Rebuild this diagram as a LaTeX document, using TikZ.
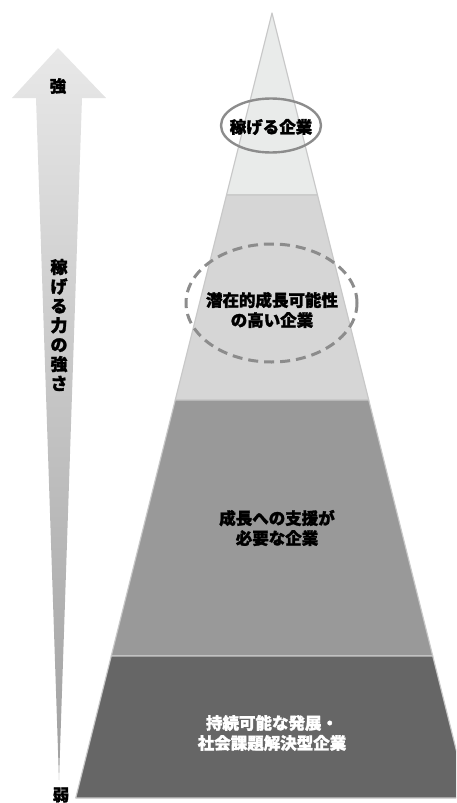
\documentclass[tikz,border=0pt]{standalone}
\usepackage{fontspec}
\newfontfamily\jp{Noto Sans CJK JP}[BoldFeatures={FakeBold=1.6}]
\usetikzlibrary{shapes.geometric}
\definecolor{band1}{HTML}{E9EBEA}
\definecolor{band2}{HTML}{D6D6D6}
\definecolor{band3}{HTML}{999999}
\definecolor{band4}{HTML}{666666}
\definecolor{edgegray}{HTML}{C8C8C8}
\definecolor{ringgray}{HTML}{8C8C8C}
\tikzset{
  band/.style={draw=edgegray,line width=1.2pt,line join=round},
  label/.style={font=\jp\bfseries\fontsize{16.5}{20}\selectfont,align=center,inner sep=0pt},
}

\begin{document}
\begin{tikzpicture}[x=1pt,y=-1pt]
  \clip (0,0) rectangle (456,803);
  \coordinate (0) at (272,13);
  \coordinate (1l) at (226.5,195);
  \coordinate (1r) at (317.5,195);
  \coordinate (2l) at (175.25,400);
  \coordinate (2r) at (368.75,400);
  \coordinate (3l) at (111.25,656);
  \coordinate (3r) at (432.75,656);
  \coordinate (4l) at (75.75,798);
  \coordinate (4r) at (468.25,798);
  \filldraw[band,fill=band1] (0) -- (1r) -- (1l) -- cycle;
  \filldraw[band,fill=band2] (1l) -- (1r) -- (2r) -- (2l) -- cycle;
  \filldraw[band,fill=band3] (2l) -- (2r) -- (3r) -- (3l) -- cycle;
  \filldraw[band,fill=band4] (3l) -- (3r) -- (4r) -- (4l) -- cycle;

  \node[ellipse,draw=ringgray,line width=2.4pt,minimum width=100,minimum height=54] (e1) at (271,125.5) {};
  \node[ellipse,draw=ringgray,line width=3pt,dash pattern=on 10pt off 6pt,minimum width=171,minimum height=118] (e2) at (271.5,303) {};
  \node[label] (t1) at (271,127) {稼げる企業};
  \node[label] (t2) at (272,310) {潜在的成長可能性\\の高い企業};
  \node[label] (t3) at (277,528) {成長への支援が\\必要な企業};
  \node[label,text=white] (t4) at (272,733) {持続可能な発展・\\社会課題解決型企業};

  \shade[top color=gray!18,bottom color=gray!75] (58,48) -- (106,98) -- (82,98) -- (59,780) -- (36,98) -- (12,98) -- cycle;
  \node[label] (strong) at (58,86) {強};
  \node[label,font=\jp\bfseries\fontsize{17}{19.4}\selectfont] (power) at (59,325) {稼\\げ\\る\\力\\の\\強\\さ};
  \node[label] (weak) at (61,795) {弱};
\end{tikzpicture}
\end{document}
